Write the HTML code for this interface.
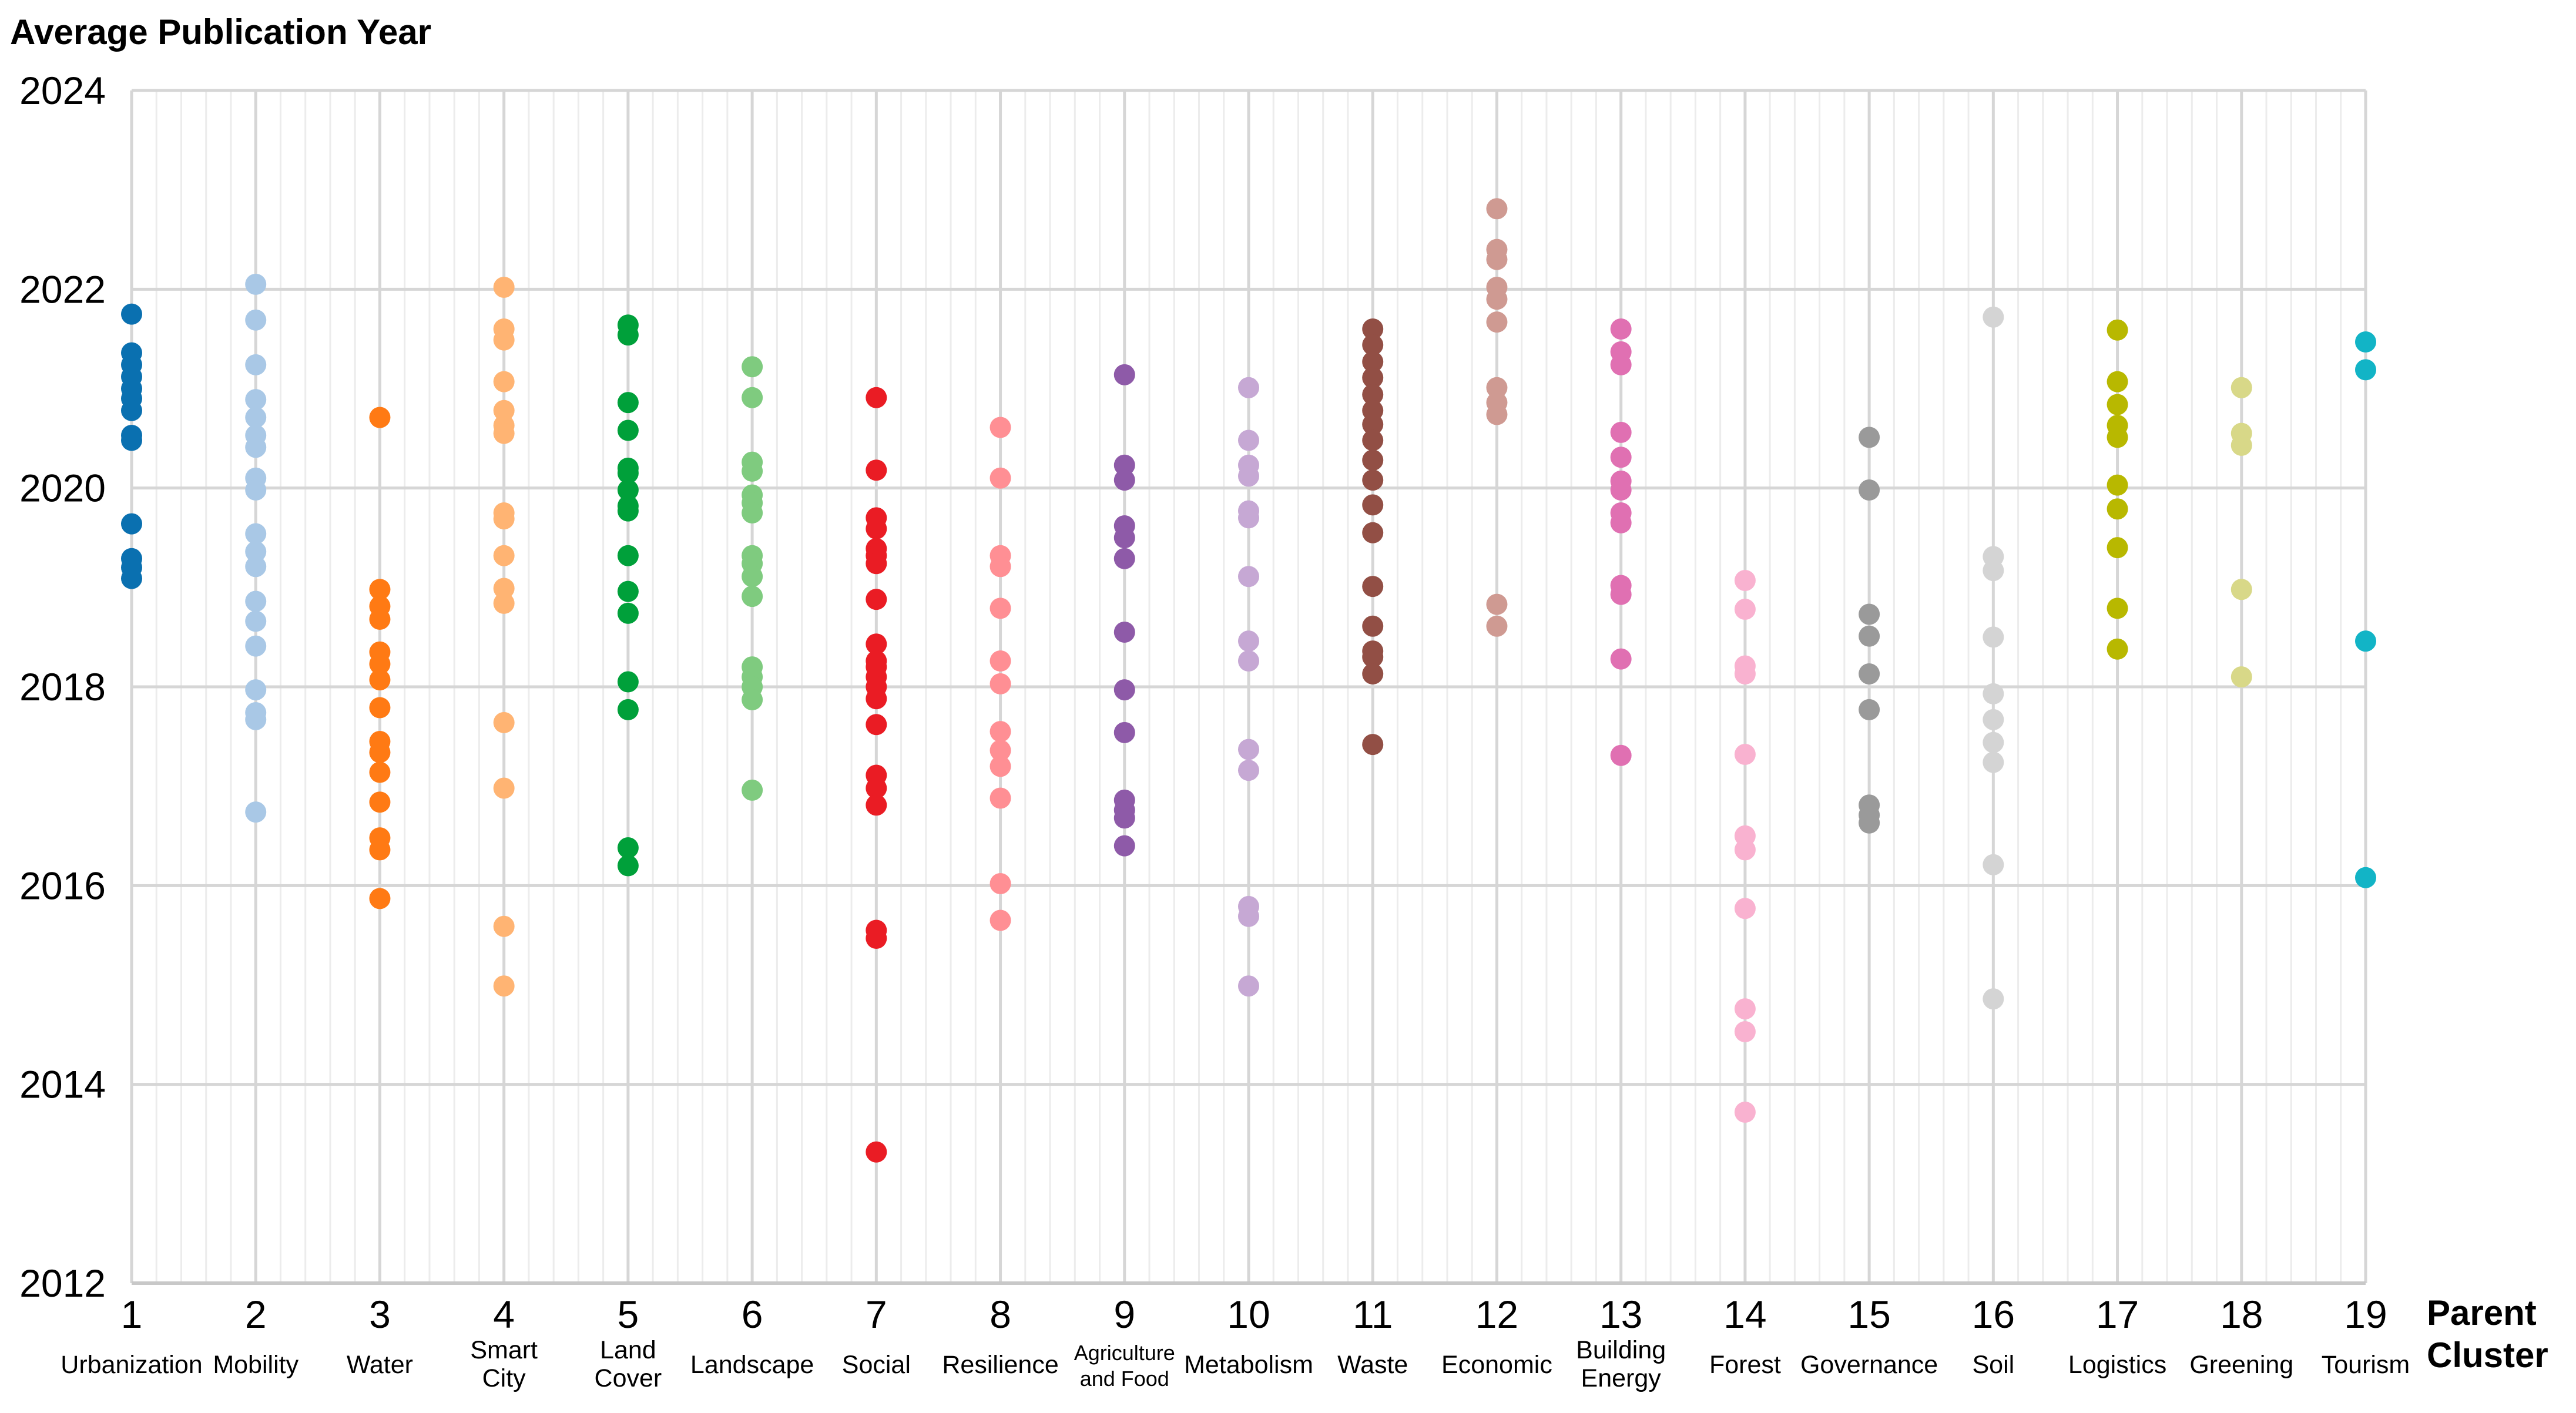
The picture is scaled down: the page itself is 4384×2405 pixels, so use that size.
<!DOCTYPE html>
<html><head><meta charset="utf-8"><style>
html,body{margin:0;padding:0;background:#fff;}
svg{display:block;font-family:"Liberation Sans",Arial,sans-serif;}
</style></head><body>
<svg id="chart" width="4384" height="2405" viewBox="0 0 4384 2405" xmlns="http://www.w3.org/2000/svg">
<g id="grid"></g>
<g id="axes"></g>
<g id="points"></g>
<text x="17" y="75" font-size="60" font-weight="bold">Average Publication Year</text>
<text font-size="60" font-weight="bold" x="4130" y="2255">Parent<tspan x="4130" dy="72">Cluster</tspan></text>
</svg>
<script>
const categories=["Urbanization","Mobility","Water","Smart|City","Land|Cover","Landscape","Social","Resilience","Agriculture|and Food","Metabolism","Waste","Economic","Building|Energy","Forest","Governance","Soil","Logistics","Greening","Tourism"];
const colors=["#0a70b0","#a9c8e6","#ff7a14","#ffb473","#00a03a","#7fcb7f","#ea1c24","#ff8f94","#8e5aa8","#c6a8d4","#924f45","#cf9a92","#e070b2","#f9b2d0","#9a9a9a","#d4d4d4","#b8b800","#d8d888","#12b4c6"];
const s1=[2021.75,2021.36,2021.24,2021.12,2021.0,2020.9,2020.78,2020.53,2020.48,2019.64,2019.29,2019.2,2019.09];
const s2=[2022.05,2021.69,2021.24,2020.89,2020.71,2020.53,2020.41,2020.1,2019.98,2019.54,2019.36,2019.21,2018.86,2018.66,2018.41,2017.97,2017.74,2017.67,2016.74];
const s3=[2020.71,2018.98,2018.81,2018.68,2018.35,2018.23,2018.07,2017.79,2017.45,2017.34,2017.14,2016.84,2016.48,2016.36,2015.87];
const s4=[2022.02,2021.6,2021.49,2021.07,2020.78,2020.63,2020.55,2019.75,2019.69,2019.32,2018.99,2018.84,2017.64,2016.98,2015.59,2014.99];
const s5=[2021.64,2021.54,2020.86,2020.58,2020.2,2020.15,2019.98,2019.82,2019.77,2019.32,2018.96,2018.74,2018.05,2017.77,2016.38,2016.2];
const s6=[2021.22,2020.91,2020.26,2020.17,2019.93,2019.85,2019.75,2019.32,2019.24,2019.11,2018.91,2018.2,2018.1,2018.0,2017.87,2016.96];
const s7=[2020.91,2020.18,2019.7,2019.59,2019.39,2019.32,2019.24,2018.88,2018.43,2018.26,2018.2,2018.1,2018.0,2017.88,2017.62,2017.11,2016.98,2016.81,2015.55,2015.47,2013.32];
const s8=[2020.61,2020.1,2019.32,2019.21,2018.79,2018.26,2018.03,2017.55,2017.36,2017.2,2016.88,2016.02,2015.65];
const s9=[2021.14,2020.23,2020.08,2019.62,2019.5,2019.29,2018.55,2017.97,2017.54,2016.86,2016.76,2016.68,2016.4];
const s10=[2021.01,2020.48,2020.23,2020.12,2019.77,2019.7,2019.11,2018.46,2018.26,2017.37,2017.16,2015.79,2015.69,2014.99];
const s11=[2021.6,2021.44,2021.27,2021.11,2020.94,2020.78,2020.64,2020.48,2020.28,2020.08,2019.83,2019.55,2019.01,2018.61,2018.36,2018.3,2018.13,2017.42];
const s12=[2022.81,2022.4,2022.3,2022.02,2021.9,2021.67,2021.01,2020.86,2020.74,2018.83,2018.61];
const s13=[2021.6,2021.37,2021.24,2020.56,2020.31,2020.07,2019.98,2019.75,2019.65,2019.02,2018.93,2018.28,2017.31];
const s14=[2019.07,2018.78,2018.21,2018.13,2017.32,2016.5,2016.36,2015.77,2014.76,2014.53,2013.72];
const s15=[2020.51,2019.98,2018.73,2018.51,2018.13,2017.77,2016.81,2016.71,2016.63];
const s16=[2021.72,2019.31,2019.17,2018.5,2017.93,2017.67,2017.44,2017.24,2016.21,2014.86];
const s17=[2021.59,2021.07,2020.84,2020.63,2020.51,2020.03,2019.79,2019.4,2018.79,2018.38];
const s18=[2021.01,2020.55,2020.43,2018.98,2018.1];
const s19=[2021.47,2021.19,2018.46,2016.08];
const yTicks=[2012,2014,2016,2018,2020,2022,2024];
const series=[s1,s2,s3,s4,s5,s6,s7,s8,s9,s10,s11,s12,s13,s14,s15,s16,s17,s18,s19];

const L=224,R=4026,T=154,B=2184;
const x=c=>L+(c-1)*(R-L)/18;
const y=v=>B-(v-2012)*(B-T)/12;
const NS="http://www.w3.org/2000/svg";
function mk(tag,attrs,parent,txt){const e=document.createElementNS(NS,tag);for(const k in attrs)e.setAttribute(k,attrs[k]);if(txt!==undefined)e.textContent=txt;parent.appendChild(e);return e;}
const grid=document.getElementById('grid'),axes=document.getElementById('axes'),pts=document.getElementById('points');
// minor vertical lines
for(let c=1;c<19;c++){for(let k=1;k<5;k++){const e=mk('line',{x1:x(c+k/5),x2:x(c+k/5),y1:T,y2:B,stroke:'#ececec','stroke-width':3},grid);

}}
// major vertical lines
for(let c=1;c<=19;c++){const e=mk('line',{x1:x(c),x2:x(c),y1:T,y2:B,stroke:'#d6d6d6','stroke-width':5},grid);

}
yTicks.forEach(t=>{const e=mk('line',{x1:L,x2:R,y1:y(t),y2:y(t),stroke:'#d6d6d6','stroke-width':5},grid);


const tl=mk('text',{x:L-44,y:y(t)+23,'font-size':66,'text-anchor':'end'},axes,String(t));

});
const bl=mk('line',{x1:L,x2:R,y1:B,y2:B,stroke:'#c8c8c8','stroke-width':6},axes);


categories.forEach((n,i)=>{const c=i+1;
const tn=mk('text',{x:x(c),y:2260,'font-size':66,'text-anchor':'middle'},axes,String(c));


const parts=n.split('|');
const small=(n.indexOf('Agriculture')===0);
const fs=small?36:43;
const g=mk('text',{x:x(c),'font-size':fs,'text-anchor':'middle'},axes);


if(parts.length===1){g.setAttribute('y',2337);g.textContent=parts[0];}
else{g.setAttribute('y',small?2315:2312);mk('tspan',{x:x(c),dy:0},g,parts[0]);mk('tspan',{x:x(c),dy:small?44:48},g,parts[1]);}
});
series.forEach((arr,i)=>{arr.forEach(v=>{const d=mk('circle',{cx:x(i+1),cy:y(v),r:18,fill:colors[i]},pts);

});});
</script>
</body></html>
